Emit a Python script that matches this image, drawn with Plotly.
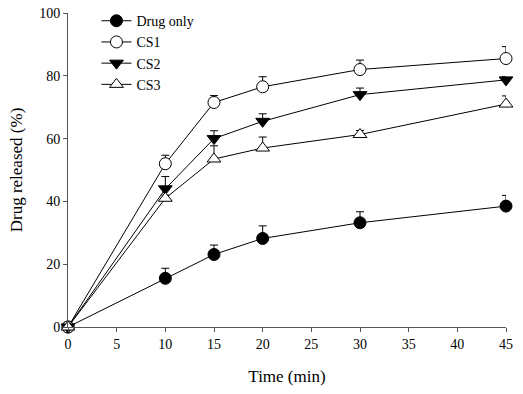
import plotly.graph_objects as go

time = [0, 10, 15, 20, 30, 45]
drug_only = [0, 15.5, 23.1, 28.2, 33.2, 38.5]
drug_only_err = [0, 3.2, 3.0, 4.0, 3.5, 3.4]
cs1 = [0, 52.0, 71.5, 76.5, 82.0, 85.5]
cs1_err = [0, 2.7, 2.2, 3.2, 3.0, 3.8]
cs2 = [0, 44.0, 60.0, 65.5, 74.0, 78.7]
cs2_err = [0, 3.9, 2.5, 2.4, 2.1, 1.0]
cs3 = [0, 41.0, 53.5, 57.0, 61.3, 71.0]
cs3_err = [0, 1.0, 4.2, 3.5, 1.3, 2.6]

series = [
    ("Drug only", drug_only, drug_only_err, "circle", "black"),
    ("CS1", cs1, cs1_err, "circle", "white"),
    ("CS2", cs2, cs2_err, "triangle-down", "black"),
    ("CS3", cs3, cs3_err, "triangle-up", "white"),
]

fig = go.Figure()
for name, vals, err, sym, fill in series:
    fig.add_trace(go.Scatter(
        x=time, y=vals, name=name, mode="lines+markers",
        line=dict(color="black", width=1),
        marker=dict(symbol=sym, size=12, color=fill, line=dict(color="black", width=1)),
        error_y=dict(type="data", array=err, arrayminus=[0]*len(err), symmetric=False,
                     color="black", thickness=1, width=4),
        cliponaxis=False,
    ))

serif = "Liberation Serif, Times New Roman, serif"
axis_font = dict(family=serif, size=14, color="black")
title_font = dict(family=serif, size=17, color="black")
fig.update_layout(
    width=523, height=394,
    margin=dict(l=68, r=17, t=13, b=67, autoexpand=False),
    paper_bgcolor="white", plot_bgcolor="white",
    font=axis_font,
    showlegend=True,
    legend=dict(x=0.065, y=1.025, xanchor="left", yanchor="top", bgcolor="rgba(0,0,0,0)",
                font=dict(family=serif, size=14, color="black"),
                tracegroupgap=0, itemwidth=30),
    xaxis=dict(range=[0, 45], tickvals=[0, 5, 10, 15, 20, 25, 30, 35, 40, 45],
               showline=True, linecolor="#555", linewidth=1, ticks="outside",
               ticklen=4, tickcolor="#555", showgrid=False, zeroline=False,
               title=dict(text="Time (min)", font=title_font, standoff=19),
               tickfont=axis_font),
    yaxis=dict(range=[0, 100], tickvals=[0, 20, 40, 60, 80, 100],
               showline=True, linecolor="#555", linewidth=1, ticks="outside",
               ticklen=4, tickcolor="#555", showgrid=False, zeroline=False,
               title=dict(text="Drug released (%)", font=title_font, standoff=12),
               tickfont=axis_font),
)

fig.write_html("out.html", config={"displayModeBar": False},
               post_script="document.body.style.margin='0';document.body.style.overflow='hidden';")
